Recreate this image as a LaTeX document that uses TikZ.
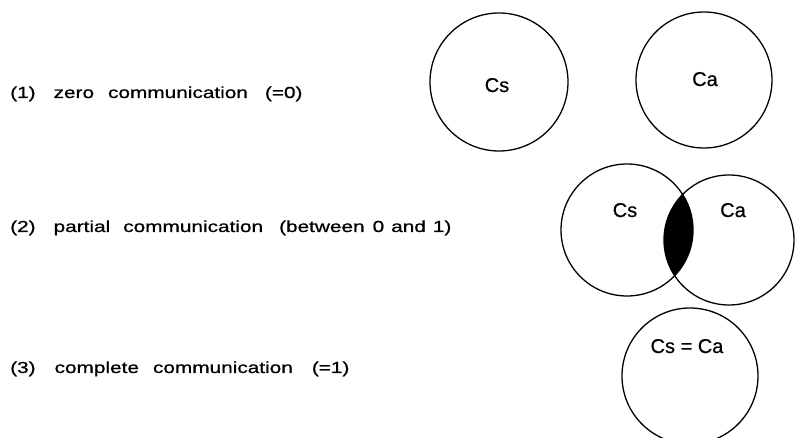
\documentclass[tikz,border=0pt]{standalone}
\usepackage{fontspec}
\setmainfont{Liberation Sans}[FakeBold=0.6]
\newfontfamily\widefont[FakeStretch=1.3,FakeBold=0.8]{Liberation Sans}
\begin{document}
\begin{tikzpicture}[x=1pt,y=1pt,
  ring/.style={draw=black,line width=1.3pt,circle,minimum size=#1,inner sep=0pt},
  rowlabel/.style={anchor=base west,inner sep=0pt,font=\widefont\fontsize{16}{18}\selectfont},
  setlabel/.style={anchor=base,inner sep=0pt,font=\fontsize{20}{22}\selectfont}]
\useasboundingbox (0,0) rectangle (795,438);

% row labels
\node[rowlabel] (t1) at (10,340) {(1)\hspace{18pt}zero\hspace{14pt}communication\hspace{17pt}(=0)};
\node[rowlabel] (t2) at (10,206) {(2)\hspace{18pt}partial\hspace{13pt}communication\hspace{16pt}(between\hspace{8pt}0\hspace{7pt}and\hspace{7pt}1)};
\node[rowlabel] (t3) at (10,65) {(3)\hspace{19pt}complete\hspace{14pt}communication\hspace{19pt}(=1)};

% (1) disjoint sets
\node[ring=138pt] (s1) at (499,356) {};
\node[ring=136pt] (a1) at (704,358) {};
\node[setlabel] (ls1) at (497,346) {Cs};
\node[setlabel] (la1) at (705,352) {Ca};

% (2) overlapping sets with shaded intersection
\begin{scope}
  \clip (627,208) circle (66);
  \fill[black] (729,198) circle (65);
\end{scope}
\node[ring=132pt] (s2) at (627,208) {};
\node[ring=130pt] (a2) at (729,198) {};
\node[setlabel] (ls2) at (625,221) {Cs};
\node[setlabel] (la2) at (733,221) {Ca};

% (3) identical sets
\node[ring=136pt] (s3) at (690,62) {};
\node[setlabel] (l3) at (687,85) {Cs = Ca};
\end{tikzpicture}
\end{document}
